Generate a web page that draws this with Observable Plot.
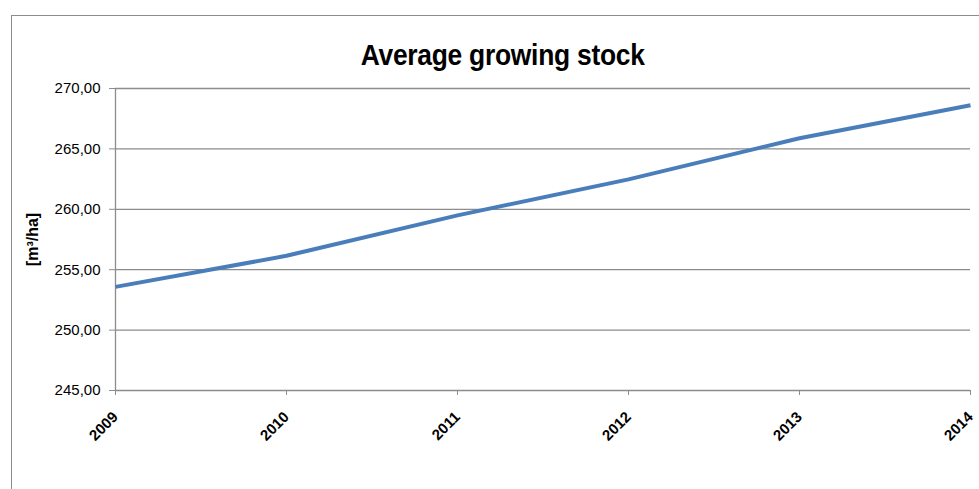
<!DOCTYPE html>
<html>
<head>
<meta charset="utf-8">
<script src="https://cdn.jsdelivr.net/npm/d3@7"></script>
<script src="https://cdn.jsdelivr.net/npm/@observablehq/plot@0.6"></script>
<style>
  html, body { margin: 0; padding: 0; background: #fff; overflow: hidden; }
  #wrap { position: relative; width: 979px; height: 489px; }
  #frame { position: absolute; left: 11px; top: 15px; width: 1000px; height: 500px;
           border-left: 1px solid #8c8c8c; border-top: 1px solid #8c8c8c; box-sizing: border-box; }
  #title { position: absolute; left: 0; top: 0; width: 979px; height: 70px; text-align: center;
           font-family: "Liberation Sans", Arial, sans-serif; font-weight: bold;
           font-size: 30px; line-height: 30px; padding-top: 40px; box-sizing: border-box; color: #000;
           padding-left: 24px; transform: scaleX(0.88); transform-origin: 511px 0; letter-spacing: -0.3px; }
  #chart { position: absolute; left: 0; top: 70px; }
</style>
</head>
<body>
<div id="wrap">
  <div id="frame"></div>
  <div id="title">Average growing stock</div>
  <div id="chart"></div>
</div>
<script>
const years = [2009, 2010, 2011, 2012, 2013, 2014];
const stock = [253.58, 256.15, 259.50, 262.48, 265.88, 268.62];
const yTicks = [245, 250, 255, 260, 265, 270];
const titleText = "Average growing stock";
const yLabel = "[m³/ha]";

const data = years.map((y, i) => ({year: y, value: stock[i]}));

const chart = Plot.plot({
  width: 979,
  height: 419,
  marginLeft: 115,
  marginRight: 9,
  marginTop: 18,
  marginBottom: 99,
  style: {fontFamily: "'Liberation Sans', Arial, sans-serif", fontSize: "15px", color: "#000", background: "transparent"},
  x: {domain: [2009, 2014]},
  y: {domain: [245, 270]},
  marks: [
    Plot.gridY(yTicks, {stroke: "#8c8c8c", strokeOpacity: 1, strokeWidth: 1.3}),
    Plot.ruleX([2009], {stroke: "#8c8c8c", strokeWidth: 1.3}),
    Plot.axisY(yTicks, {tickSize: 6, tickPadding: 9, stroke: "#8c8c8c", fill: "#000",
      tickFormat: d => d.toFixed(2).replace(".", ","), label: null, fontSize: 15}),
    Plot.axisX(years, {tickSize: 5, stroke: "#8c8c8c", tickFormat: () => "", label: null}),
    Plot.axisX(years, {tickSize: 0, tickPadding: 10, fill: "#000", dy: 14, dx: 0,
      tickFormat: d => String(d), tickRotate: -45, label: null, fontSize: 15, fontWeight: "bold"}),
    Plot.text([yLabel], {frameAnchor: "left", textAnchor: "middle", dx: -83, rotate: -90,
      fontWeight: "bold", fontSize: 16, fill: "#000"}),
    Plot.line(data, {x: "year", y: "value", stroke: "#4a7ebb", strokeWidth: 4, strokeLinecap: "butt"})
  ]
});
document.getElementById("chart").appendChild(chart);
</script>
</body>
</html>
